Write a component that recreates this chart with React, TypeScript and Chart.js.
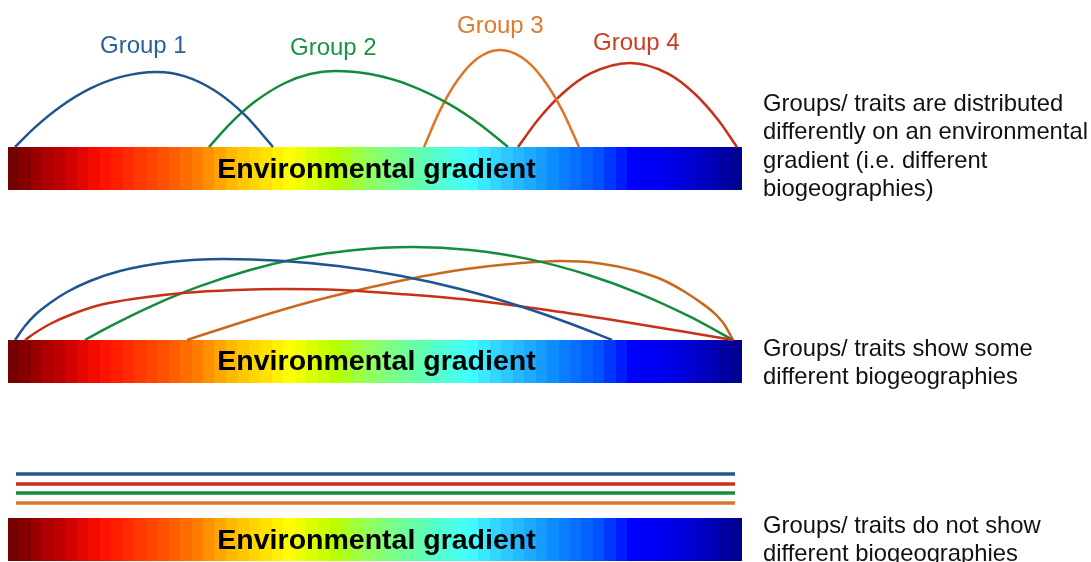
import React, { useEffect, useRef } from "react";
import { Chart, registerables } from "chart.js";

Chart.register(...registerables);

// ---------- Data ----------
const groupNames = ["Group 1", "Group 2", "Group 3", "Group 4"];
const gradientLabel = "Environmental gradient";

// Panel 1: distinct biogeographies (x, y in picture units)
const p1Group1X = [15, 35, 60, 90, 120, 157, 185, 215, 245, 273];
const p1Group1Y = [147, 127.4, 107, 88.7, 77.1, 72, 76.4, 90.8, 115.2, 147];
const p1Group2X = [209, 230, 255, 285, 310, 335, 370, 410, 450, 480, 508];
const p1Group2Y = [147, 123.8, 101.6, 83, 74, 71, 74.1, 85.3, 104.6, 124.4, 147];
const p1Group3X = [424, 440, 458, 478, 500, 522, 542, 562, 579];
const p1Group3Y = [147, 110.4, 79.6, 58.1, 50, 57.5, 77.4, 109.8, 147];
const p1Group4X = [518, 538, 562, 590, 630, 668, 695, 718, 737];
const p1Group4Y = [147, 119.7, 94, 73.7, 63, 73.6, 94, 119.8, 147];

// Panel 2: partly overlapping biogeographies
const p2Group1X = [15, 25, 35, 50, 67, 90, 120, 170, 223, 280, 340, 400, 460, 520, 570, 612];
const p2Group1Y = [340, 326, 315, 303, 292, 281, 271, 262, 259, 260.7, 266.3, 275.8, 289, 306.2, 323.5, 340];
const p2Group4X = [25, 35, 50, 70, 100, 140, 183, 235, 285, 340, 400, 470, 540, 613, 680, 733];
const p2Group4Y = [340, 333, 324, 315, 305, 298, 293, 290, 289, 290, 294, 300, 309, 320, 331, 340];
const p2Group2X = [85, 110, 150, 200, 250, 300, 350, 413, 470, 530, 590, 640, 690, 733];
const p2Group2Y = [340, 326.4, 306.8, 286.2, 270, 258, 250.4, 247, 250, 259.4, 275.5, 293.8, 316.7, 340];
const p2Group3X = [187, 230, 270, 310, 350, 390, 430, 470, 510, 560, 600, 635, 663, 685, 700, 713, 724, 733];
const p2Group3Y = [340, 326, 313.5, 302, 292, 283, 275, 268.5, 264, 261, 263.4, 270.5, 280, 292, 302, 312, 324, 340];

// Panel 3: no differences
const p3X = [16, 735];
const p3Group1Y = [474, 474];
const p3Group4Y = [484, 484];
const p3Group2Y = [493, 493];
const p3Group3Y = [503, 503];

// Gradient bars (top, bottom)
const barTops = [147, 340, 518];
const barBottoms = [190, 383, 561];
const barLeft = 8;
const barRight = 742;
const bandCount = 64;
const gradientTextBaselines = [178, 370, 549];

// Group labels (left x, baseline y)
const labelX = [100, 290, 457, 593];
const labelY = [53, 55, 33, 50];

// Descriptions
const descLines1 = [
  "Groups/ traits are distributed",
  "differently on an environmental",
  "gradient (i.e. different",
  "biogeographies)",
];
const descLines2 = ["Groups/ traits show some", "different biogeographies"];
const descLines3 = ["Groups/ traits do not show", "different biogeographies"];
const descX = 763;
const descBaseline1 = [111, 139, 168, 196];
const descBaseline2 = [356, 384];
const descBaseline3 = [533, 561];

// ---------- Styles ----------
const lineColors = ["#1f5591", "#138c3c", "#e07424", "#c9301a"];
const p2OrangeColor = "#c8691e";
const labelColors = ["#2b609c", "#1a9443", "#de7a30", "#d03a22"];

// colour-map stops (x position in picture, rgb)
const cmapPos = [8, 40, 65, 103, 133, 167, 200, 233, 290, 335, 370, 420, 470, 500, 550, 600, 633, 660, 700, 742];
const cmapRGB: number[][] = [
  [106, 0, 0], [160, 0, 0], [200, 0, 0], [255, 16, 0], [255, 48, 0], [255, 85, 0],
  [255, 128, 0], [255, 187, 0], [255, 255, 0], [184, 255, 0], [144, 255, 96],
  [96, 255, 176], [64, 255, 255], [48, 208, 255], [16, 144, 255], [0, 80, 255],
  [0, 0, 255], [0, 0, 240], [0, 0, 200], [0, 0, 136],
];

const cmapAt = (x: number) => {
  let i = 0;
  while (i < cmapPos.length - 2 && x > cmapPos[i + 1]) i++;
  const t = Math.max(0, Math.min(1, (x - cmapPos[i]) / (cmapPos[i + 1] - cmapPos[i])));
  const a = cmapRGB[i];
  const b = cmapRGB[i + 1];
  const c = a.map((v, k) => Math.round(v + (b[k] - v) * t));
  return `rgb(${c[0]},${c[1]},${c[2]})`;
};

const pts = (xs: number[], ys: number[]) => xs.map((x, i) => ({ x, y: ys[i] }));

const curve = (xs: number[], ys: number[], color: string, width = 2.5) => ({
  data: pts(xs, ys),
  showLine: true,
  borderColor: color,
  backgroundColor: color,
  borderWidth: width,
  pointRadius: 0,
  cubicInterpolationMode: "monotone" as const,
  fill: false,
  clip: false as any,
});

const decorPlugin = {
  id: "decor",
  beforeDatasetsDraw(chart: any) {
    const { ctx, scales } = chart;
    const xs = scales.x;
    const ys = scales.y;
    ctx.save();
    const w = (barRight - barLeft) / bandCount;
    barTops.forEach((t, bi) => {
      const top = ys.getPixelForValue(t);
      const bot = ys.getPixelForValue(barBottoms[bi]);
      for (let i = 0; i < bandCount; i++) {
        const v0 = barLeft + i * w;
        const v1 = barLeft + (i + 1) * w;
        ctx.fillStyle = cmapAt((v0 + v1) / 2);
        const x0 = Math.round(xs.getPixelForValue(v0));
        const x1 = Math.round(xs.getPixelForValue(v1));
        ctx.fillRect(x0, top, x1 - x0, bot - top);
      }
      ctx.fillStyle = "#000";
      ctx.font = 'bold 28.5px "Liberation Sans", Arial, sans-serif';
      ctx.textAlign = "center";
      ctx.textBaseline = "alphabetic";
      ctx.fillText(
        gradientLabel,
        xs.getPixelForValue(376.5),
        ys.getPixelForValue(gradientTextBaselines[bi])
      );
    });
    ctx.restore();
  },
  afterDatasetsDraw(chart: any) {
    const { ctx, scales } = chart;
    const xs = scales.x;
    const ys = scales.y;
    ctx.save();
    ctx.textAlign = "left";
    ctx.textBaseline = "alphabetic";
    ctx.font = '24px "Liberation Sans", Arial, sans-serif';
    groupNames.forEach((g, i) => {
      ctx.fillStyle = labelColors[i];
      ctx.fillText(g, xs.getPixelForValue(labelX[i]), ys.getPixelForValue(labelY[i]));
    });
    ctx.fillStyle = "#111";
    ctx.font = '23.8px "Liberation Sans", Arial, sans-serif';
    const drawLines = (lines: string[], base: number[]) =>
      lines.forEach((s, i) =>
        ctx.fillText(s, xs.getPixelForValue(descX), ys.getPixelForValue(base[i]))
      );
    drawLines(descLines1, descBaseline1);
    drawLines(descLines2, descBaseline2);
    drawLines(descLines3, descBaseline3);
    ctx.restore();
  },
};

export default function App() {
  const ref = useRef<HTMLCanvasElement | null>(null);
  useEffect(() => {
    document.body.style.margin = "0";
    if (!ref.current) return;
    const chart = new Chart(ref.current, {
      type: "scatter",
      data: {
        datasets: [
          curve(p1Group1X, p1Group1Y, lineColors[0]),
          curve(p1Group2X, p1Group2Y, lineColors[1]),
          curve(p1Group3X, p1Group3Y, lineColors[2]),
          curve(p1Group4X, p1Group4Y, lineColors[3]),
          curve(p2Group1X, p2Group1Y, lineColors[0]),
          curve(p2Group4X, p2Group4Y, lineColors[3]),
          curve(p2Group2X, p2Group2Y, lineColors[1]),
          curve(p2Group3X, p2Group3Y, p2OrangeColor),
          curve(p3X, p3Group1Y, lineColors[0], 3.5),
          curve(p3X, p3Group4Y, lineColors[3], 3.5),
          curve(p3X, p3Group2Y, lineColors[1], 3.5),
          curve(p3X, p3Group3Y, lineColors[2], 3.5),
        ] as any,
      },
      options: {
        animation: false,
        responsive: false,
        devicePixelRatio: 1,
        layout: { padding: 0 },
        plugins: { legend: { display: false }, tooltip: { enabled: false } },
        events: [],
        scales: {
          x: { type: "linear", min: 0, max: 1091, display: false },
          y: { type: "linear", min: 0, max: 562, reverse: true, display: false },
        },
      },
      plugins: [decorPlugin],
    });
    return () => chart.destroy();
  }, []);
  return (
    <div style={{ width: 1091, height: 562, background: "#fff" }}>
      <canvas ref={ref} width={1091} height={562} />
    </div>
  );
}
